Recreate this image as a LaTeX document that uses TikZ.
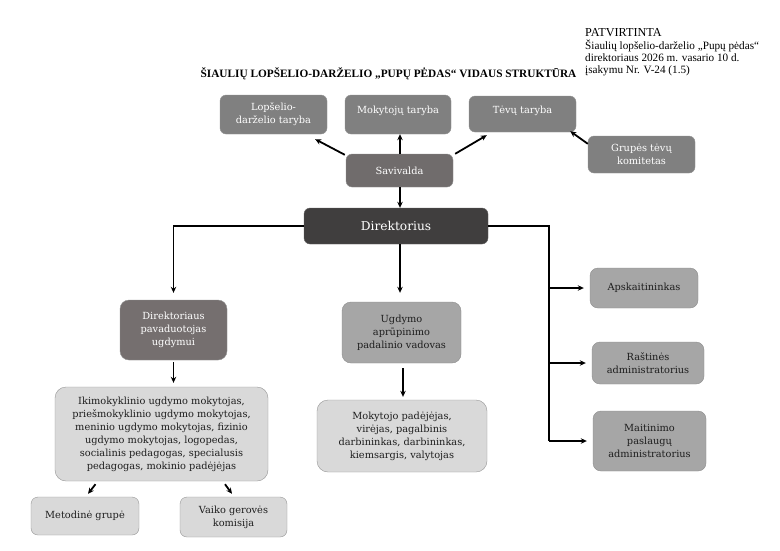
\documentclass[tikz,border=0pt]{standalone}
\usepackage{fontspec}
\setmainfont{Liberation Serif}
\newfontfamily\boxfont{DejaVu Serif}
\usetikzlibrary{arrows.meta}
\definecolor{gmid}{RGB}{128,128,128}
\definecolor{gsav}{RGB}{112,108,108}
\definecolor{gdir}{RGB}{64,62,62}
\definecolor{gpav}{RGB}{117,111,111}
\definecolor{glt}{RGB}{166,166,166}
\definecolor{gpale}{RGB}{217,217,217}
\definecolor{gedge}{RGB}{150,150,150}
\definecolor{tdark}{RGB}{30,30,30}
\tikzset{
  bx/.style={rounded corners=6pt, inner sep=1pt, align=center, font=\boxfont\fontsize{9.8}{13}\selectfont},
  darkbx/.style={bx, fill=gmid, draw=gmid!85!white, text=white},
  ltbx/.style={bx, fill=glt, draw=glt!85!black, text=tdark},
  palebx/.style={bx, rounded corners=11pt, fill=gpale, draw=gedge, text=tdark},
  arr/.style={-{Stealth[length=6pt,width=5.5pt]}, line width=1.8pt, black},
  con/.style={line width=1.8pt, black},
}
\begin{document}
\begin{tikzpicture}[x=1pt,y=-1pt]
\useasboundingbox (0,0) rectangle (780,550);
\fill[white] (0,0) rectangle (780,550);

% header
\node[anchor=north west, align=left, inner sep=0pt, font=\fontsize{11.2}{12.3}\selectfont] (hdr) at (585,28.5)
  {{\fontsize{12.2}{12.3}\selectfont PATVIRTINTA}\\
   Šiaulių lopšelio-darželio „Pupų pėdas“\\
   direktoriaus 2026 m. vasario 10 d.\\
   įsakymu Nr. V-24 (1.5)};
\node[anchor=base, inner sep=0pt, font=\bfseries\fontsize{11.3}{12}\selectfont] (title) at (388.5,77)
  {ŠIAULIŲ LOPŠELIO-DARŽELIO „PUPŲ PĖDAS“ VIDAUS STRUKTŪRA};

% top row
\node[darkbx, minimum width=107, minimum height=39] (lop) at (273.5,114.5) {Lopšelio-\\darželio taryba};
\node[darkbx, minimum width=106, minimum height=39] (mok) at (398,114.5) {Mokytojų taryba\\[-4pt]};
\node[darkbx, minimum width=107, minimum height=36] (tev) at (522.5,114) {Tėvų taryba\\[-5pt]};
\node[darkbx, minimum width=107, minimum height=37] (gru) at (641.5,154.5) {Grupės tėvų\\komitetas};
\node[darkbx, fill=gsav, minimum width=107, minimum height=33] (sav) at (399.5,170.5) {Savivalda};

% director
\node[bx, fill=gdir, draw=gdir!80!white, text=white, font=\boxfont\fontsize{12.2}{14}\selectfont,
      minimum width=184, minimum height=36] (dir) at (396,226) {Direktorius};

% second level
\node[darkbx, fill=gpav, rounded corners=9pt, minimum width=107, minimum height=60] (pav) at (173.5,330)
  {Direktoriaus\\pavaduotojas\\ugdymui};
\node[ltbx, rounded corners=9pt, minimum width=119, minimum height=61] (ugd) at (401.5,332.5)
  {Ugdymo\\aprūpinimo\\padalinio vadovas};

\node[palebx, minimum width=213, minimum height=94] (iki) at (161.5,434)
  {Ikimokyklinio ugdymo mokytojas,\\prieš\-mokyklinio ugdymo mokytojas,\\meninio ugdymo mokytojas, fizinio\\ugdymo mokytojas, logopedas,\\socialinis pedagogas, specialusis\\pedagogas, mokinio padėjėjas};
\node[palebx, minimum width=170, minimum height=72] (mpd) at (402,436)
  {Mokytojo padėjėjas,\\virėjas, pagalbinis\\darbininkas, darbininkas,\\kiemsargis, valytojas};

\node[palebx, rounded corners=7pt, minimum width=108, minimum height=38] (met) at (85,516) {Metodinė grupė};
\node[palebx, rounded corners=7pt, minimum width=107, minimum height=40] (vai) at (233.5,517) {Vaiko gerovės\\komisija};

% right column
\node[ltbx, rounded corners=8pt, minimum width=108, minimum height=40] (aps) at (644,288) {Apskaitininkas};
\node[ltbx, rounded corners=8pt, minimum width=112, minimum height=42] (ras) at (648,363) {Raštinės\\administratorius};
\node[ltbx, rounded corners=8pt, minimum width=113, minimum height=60] (mai) at (649.5,441) {Maitinimo\\paslaugų\\administratorius};

% connectors: savivalda
\draw[arr] ([xshift=-1pt,yshift=-1pt]sav.north west) -- ([xshift=-12pt,yshift=-5pt]lop.south east);
\draw[arr] ([xshift=0.5pt]sav.north) -- ([xshift=0.5pt]sav.north |- mok.south);
\draw[arr] ([xshift=2pt]sav.north east) -- ([xshift=18pt,yshift=-3pt]tev.south west);
\draw[arr] ([yshift=-8pt]gru.north west) -- ([xshift=-6pt,yshift=1pt]tev.south east);
\draw[arr] ([xshift=0.5pt]sav.south) -- ([xshift=0.5pt]sav.south |- dir.north);

% director branches
\draw[arr, shorten >=7pt] (dir.west) -| (pav.north);
\draw[arr, shorten >=9pt] ([xshift=-1.5pt]ugd.north |- dir.south) -- ([xshift=-1.5pt]ugd.north);
\coordinate (bx) at (549,226);
\draw[con] (dir.east) -- (bx) -- (bx |- mai.west);
\draw[arr, shorten >=6pt] (bx |- aps.west) -- (aps.west);
\draw[arr, shorten >=6pt] (bx |- ras.west) -- (ras.west);
\draw[arr, shorten >=6pt] (bx |- mai.west) -- (mai.west);

% lower
\draw[arr, shorten <=2pt, shorten >=4pt] (pav.south) -- (pav.south |- iki.north);
\draw[arr, shorten <=5pt, shorten >=3pt] ([xshift=1.5pt]ugd.south) -- ([xshift=1.5pt]ugd.south |- mpd.north);
\draw[arr] ([xshift=-66pt,yshift=-3pt]iki.south) -- ([xshift=3pt,yshift=3pt]met.north);
\draw[arr] ([xshift=63.5pt,yshift=-3pt]iki.south) -- ([xshift=-1.5pt,yshift=3pt]vai.north);
\end{tikzpicture}
\end{document}
